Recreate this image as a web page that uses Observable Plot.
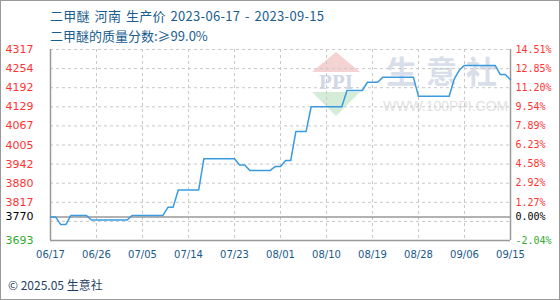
<!DOCTYPE html>
<html><head><meta charset="utf-8">
<script src="https://cdn.jsdelivr.net/npm/d3@7"></script>
<script src="https://cdn.jsdelivr.net/npm/@observablehq/plot@0.6"></script>
<style>
body{margin:0;background:#fff;}
#wrap{position:relative;width:560px;height:300px;overflow:hidden;background:#fff;font-family:"Noto Sans CJK SC","Noto Sans",sans-serif;}
.t{position:absolute;left:50px;font-size:13px;line-height:14px;height:14px;color:#1a5d8f;white-space:nowrap;}
#chart{position:absolute;left:0;top:40px;}
#wm{position:absolute;left:0;top:0;width:560px;height:300px;}
#foot{position:absolute;left:8px;top:277px;font-size:12px;line-height:16px;color:#1f3f66;}
#border{position:absolute;left:0;top:0;width:560px;height:300px;box-sizing:border-box;border:1px solid #999;pointer-events:none;}
</style></head><body>
<div id="wrap">
  <div id="wm">
    <svg width="560" height="300" style="position:absolute;left:0;top:0">
      <polygon points="312,72 360,72 336,52" fill="#f5d3d3"/>
      <polygon points="312,92 360,92 336,116" fill="#d5edd8"/>
      <text x="336" y="89" text-anchor="middle" font-family="Liberation Serif" font-weight="bold" font-size="21" fill="#d0d8e8">PPI</text>
      <text x="386" y="83" font-family="Noto Sans CJK SC" font-weight="bold" font-size="31" letter-spacing="9" fill="#d9dfea">生意社</text>
      <text x="383" y="111" font-family="Liberation Sans" font-size="14" fill="#e2e2e2">WWW.100PPI.COM</text>
    </svg>
  </div>
  <div class="t" style="top:9px;letter-spacing:0.3px;word-spacing:1.5px">二甲醚 河南 生产价 2023-06-17 - 2023-09-15</div>
  <div class="t" style="top:29px">二甲醚的质量分数:≥99.0%</div>
  <div id="chart"></div>
  <div id="foot">© 2025.05 生意社</div>
  <div id="border"></div>
</div>
<script>
const startDate = "2023-06-17";
const endDate = "2023-09-15";
const prices = [
  3770,3770,3745,3745,3775,3775,3775,3775,3760,3760,
  3760,3760,3760,3760,3760,3760,3775,3775,3775,3775,
  3775,3775,3775,3802,3802,3858,3858,3858,3858,3858,
  3960,3960,3960,3960,3960,3960,3960,3940,3940,3922,
  3922,3922,3922,3922,3935,3935,3954,3954,4049,4049,
  4049,4130,4130,4130,4130,4130,4130,4130,4183,4183,
  4183,4183,4210,4210,4210,4226,4226,4226,4226,4226,
  4226,4226,4164,4164,4164,4164,4164,4164,4164,4221,
  4250,4265,4265,4265,4265,4265,4265,4265,4235,4235,4218
];
const baseValue = 3770;
const yMin = 3693, yMax = 4317;
const gridValues = [3755.4, 3817.8, 3880.2, 3942.6, 4005, 4067.4, 4129.8, 4192.2, 4254.6, 4317];
const labelValues = [4317, 4254.6, 4192.2, 4129.8, 4067.4, 4005, 3942.6, 3880.2, 3817.8, 3770, 3693];
const leftLabels = ["4317","4254","4192","4129","4067","4005","3942","3880","3817","3770","3693"];
const rightLabels = ["14.51%","12.85%","11.20%","9.54%","7.89%","6.23%","4.58%","2.92%","1.27%","0.00%","-2.04%"];
const xTickDates = ["2023-06-17","2023-06-26","2023-07-05","2023-07-14","2023-07-23","2023-08-01","2023-08-10","2023-08-19","2023-08-28","2023-09-06","2023-09-15"];
const xTickLabels = ["06/17","06/26","07/05","07/14","07/23","08/01","08/10","08/19","08/28","09/06","09/15"];

const start = new Date(startDate + "T00:00:00Z");
const data = prices.map((p, i) => ({date: d3.utcDay.offset(start, i), price: p}));
const xTicks = xTickDates.map(s => new Date(s + "T00:00:00Z"));
const labelRows = labelValues.map((v, i) => ({v, left: leftLabels[i], right: rightLabels[i],
  color: v > baseValue ? "#ff3333" : (v < baseValue ? "#33aa33" : "#000000")}));
const xRows = xTicks.map((d, i) => ({d, t: xTickLabels[i]}));

const chart = Plot.plot({
  width: 560, height: 232,
  marginTop: 9, marginBottom: 32, marginLeft: 50, marginRight: 50,
  style: {background: "transparent", fontFamily: "DejaVu Sans", fontSize: "10px"},
  x: {type: "utc", domain: [start, new Date(endDate + "T00:00:00Z")], axis: null},
  y: {domain: [yMin, yMax], axis: null},
  marks: [
    Plot.ruleX(xTicks, {stroke: "#c8c8c8", strokeDasharray: "3,3", strokeWidth: 1}),
    Plot.ruleY(gridValues, {stroke: "#c8c8c8", strokeDasharray: "3,3", strokeWidth: 1}),
    Plot.ruleY([baseValue], {stroke: "#999", strokeWidth: 1.5}),
    Plot.ruleY([yMin], {stroke: "#999", strokeWidth: 1.5}),
    Plot.ruleX([xTicks[0], xTicks[xTicks.length - 1]], {stroke: "#999", strokeWidth: 1.5}),
    Plot.line(data, {x: "date", y: "price", stroke: "#3a9ae0", strokeWidth: 1.5}),
    Plot.text(labelRows, {y: "v", text: "left", fill: "color", frameAnchor: "left", dx: -45, textAnchor: "start", fontSize: 11, fontFamily: "DejaVu Sans"}),
    Plot.text(labelRows, {y: "v", text: "right", fill: "color", frameAnchor: "right", dx: 5, textAnchor: "start", fontSize: 10, fontFamily: "DejaVu Sans Mono"}),
    Plot.text(xRows, {x: "d", text: "t", frameAnchor: "bottom", dy: 17, fill: "#1a5a8a", fontSize: 10, fontFamily: "DejaVu Sans"})
  ]
});
document.getElementById("chart").appendChild(chart);
</script>
</body></html>
